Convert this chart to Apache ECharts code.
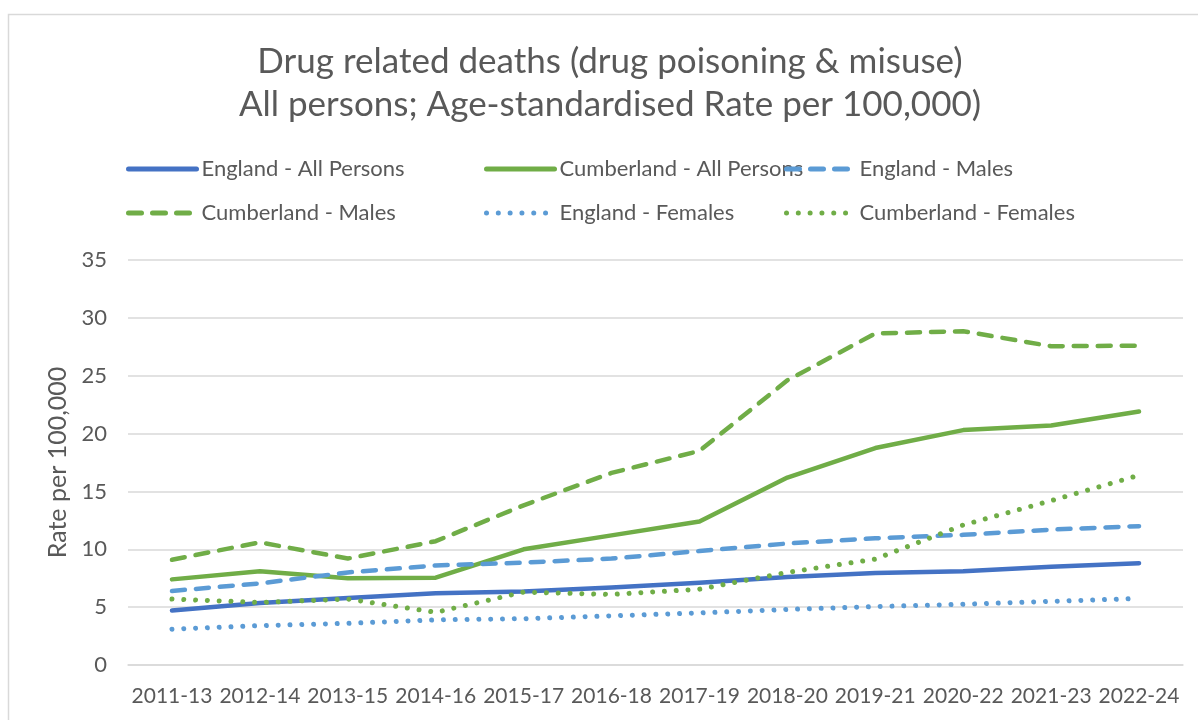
<!DOCTYPE html>
<html>
<head>
<meta charset="utf-8">
<script src="https://cdn.jsdelivr.net/npm/echarts@6/dist/echarts.min.js"></script>
<style>html,body{margin:0;padding:0;background:#fff;}#c{width:1198px;height:720px;}</style>
</head>
<body>
<div id="c"></div>
<script>
const categories = ['2011-13','2012-14','2013-15','2014-16','2015-17','2016-18','2017-19','2018-20','2019-21','2020-22','2021-23','2022-24'];
const englandAll = [4.7, 5.35, 5.8, 6.2, 6.35, 6.7, 7.1, 7.6, 7.95, 8.1, 8.5, 8.8];
const cumberlandAll = [7.4, 8.1, 7.5, 7.55, 10.0, 11.2, 12.4, 16.2, 18.75, 20.3, 20.7, 21.9];
const englandMales = [6.4, 7.05, 8.0, 8.6, 8.85, 9.2, 9.85, 10.5, 10.95, 11.25, 11.7, 12.0];
const cumberlandMales = [9.1, 10.6, 9.2, 10.7, 13.8, 16.6, 18.5, 24.6, 28.65, 28.85, 27.55, 27.6];
const englandFemales = [3.1, 3.4, 3.6, 3.9, 4.0, 4.25, 4.5, 4.8, 5.05, 5.25, 5.5, 5.75];
const cumberlandFemales = [5.7, 5.4, 5.7, 4.55, 6.3, 6.1, 6.55, 8.0, 9.15, 12.1, 14.2, 16.4];
const yTicks = [0, 5, 10, 15, 20, 25, 30, 35];

const DARK = '#4472C4', GREEN = '#70AD47', LIGHT = '#5B9BD5';
const TXT = '#595959';
const FONT = 'Lato';

function mk(name, data, color, kind) {
  let ls = { color: color, width: 4.5, cap: 'round', join: 'round' };
  if (kind === 'dash') ls.type = [13, 11];
  else if (kind === 'dot') { ls.type = [0.01, 11.8]; ls.width = 5; }
  else ls.type = 'solid';
  return { name, type: 'line', data, symbol: 'none', smooth: false, lineStyle: ls, itemStyle: { color }, z: 3 };
}

const series = [
  mk('England - All Persons', englandAll, DARK, 'solid'),
  mk('Cumberland - All Persons', cumberlandAll, GREEN, 'solid'),
  mk('England - Males', englandMales, LIGHT, 'dash'),
  mk('Cumberland - Males', cumberlandMales, GREEN, 'dash'),
  mk('England - Females', englandFemales, LIGHT, 'dot'),
  mk('Cumberland - Females', cumberlandFemales, GREEN, 'dot')
];

function lg(left, names) {
  return {
    left: left, top: 153, orient: 'vertical', itemGap: 22,
    itemWidth: 68, itemHeight: 26,
    data: names,
    itemStyle: { opacity: 0 },
    lineStyle: { width: 5 },
    textStyle: { color: TXT, fontSize: 22, fontFamily: FONT }
  };
}

const chart = echarts.init(document.getElementById('c'), null, { renderer: 'canvas' });
chart.setOption({
  animation: false,
  backgroundColor: '#fff',
  title: {
    text: 'Drug related deaths (drug poisoning & misuse)\nAll persons; Age-standardised Rate per 100,000)',
    left: 605, top: 35, textAlign: 'center',
    textStyle: { color: TXT, fontSize: 35, fontWeight: 'normal', fontFamily: FONT, lineHeight: 43 }
  },
  legend: [
    lg(121, ['England - All Persons', 'Cumberland - Males']),
    lg(479, ['Cumberland - All Persons', 'England - Females']),
    lg(779, ['England - Males', 'Cumberland - Females'])
  ],
  grid: { left: 128, right: 15, top: 260, bottom: 55, containLabel: false },
  xAxis: {
    type: 'category', data: categories, boundaryGap: true,
    axisLine: { show: true, lineStyle: { color: '#d9d9d9', width: 1.5 } },
    axisTick: { show: false },
    axisLabel: { color: TXT, fontSize: 21, fontFamily: FONT, margin: 21, interval: 0 }
  },
  yAxis: {
    type: 'value', min: yTicks[0], max: yTicks[yTicks.length - 1], interval: 5,
    name: 'Rate per 100,000', nameLocation: 'middle', nameGap: 58, nameRotate: 90,
    nameTextStyle: { color: TXT, fontSize: 25, fontFamily: FONT },
    axisLine: { show: false }, axisTick: { show: false },
    axisLabel: { color: TXT, fontSize: 22, fontFamily: FONT, margin: 21 },
    splitLine: { lineStyle: { color: '#d9d9d9', width: 1.5 } }
  },
  graphic: [{
    type: 'rect', shape: { x: 8.5, y: 14.5, width: 1300, height: 800 },
    style: { fill: null, stroke: '#d9d9d9', lineWidth: 1.5 }, silent: true, z: -1
  }],
  series: series
});
</script>
</body>
</html>
